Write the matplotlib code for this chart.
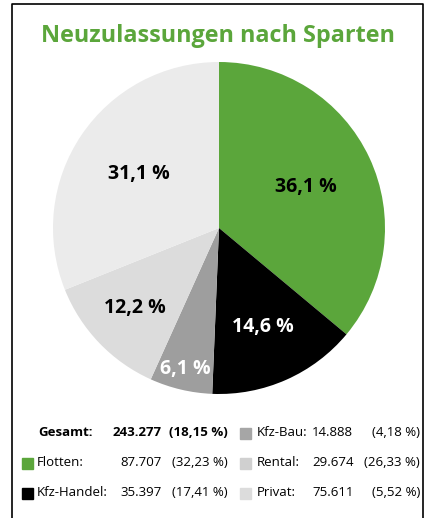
import matplotlib
matplotlib.use("Agg")
import matplotlib.pyplot as plt
import numpy as np

plt.rcParams['font.family'] = ['Open Sans', 'DejaVu Sans']

title = "Neuzulassungen nach Sparten"
shares = [36.1, 14.6, 6.1, 12.2, 31.1]
share_labels = ["36,1 %", "14,6 %", "6,1 %", "12,2 %", "31,1 %"]
colors = ["#5ba63b", "#000000", "#9e9e9e", "#dcdcdc", "#ebebeb"]
label_colors = ["black", "white", "white", "black", "black"]
label_dist = [0.58, 0.65, 0.87, 0.70, 0.58]

total_name = "Gesamt:"
total_value = "243.277"
total_pct = "(18,15 %)"
legend_names = ["Flotten:", "Kfz-Handel:", "Kfz-Bau:", "Rental:", "Privat:"]
legend_values = ["87.707", "35.397", "14.888", "29.674", "75.611"]
legend_pcts = ["(32,23 %)", "(17,41 %)", "(4,18 %)", "(26,33 %)", "(5,52 %)"]
legend_colors = ["#5ba63b", "#000000", "#a6a6a6", "#d0d0d0", "#dcdcdc"]

W, H = 427, 518
fig = plt.figure(figsize=(W / 100, H / 100), dpi=100)

def fx(px):
    return px / W

def fy(py):
    return 1 - py / H

# frame (open at bottom)
fig.add_artist(plt.Line2D([fx(12), fx(12), fx(423), fx(423)],
                          [0, fy(4), fy(4), 0], color="black", lw=1.2,
                          transform=fig.transFigure))

fig.text(fx(218), fy(36), title, color="#5ba63b", fontsize=16.8, fontweight="bold",
         ha="center", va="center")

cx, cy, r = 219, 228, 166
ax = fig.add_axes([fx(cx - r), fy(cy + r), (2 * r) / W, (2 * r) / H])
wedges, _ = ax.pie(shares, colors=colors, startangle=90, counterclock=False,
                   radius=1, wedgeprops=dict(linewidth=0))
ax.set_xlim(-1, 1)
ax.set_ylim(-1, 1)
ax.set_aspect("auto")
ax.axis("off")
for w, lab, c, d in zip(wedges, share_labels, label_colors, label_dist):
    ang = np.deg2rad((w.theta1 + w.theta2) / 2)
    ax.text(d * np.cos(ang), d * np.sin(ang), lab, color=c, fontsize=14,
            fontweight="bold", ha="center", va="center")

fs = 9.5
rows_y = [433, 463, 493]
# total row
fig.text(fx(38), fy(rows_y[0]), total_name, fontsize=fs, fontweight="bold", va="center")
fig.text(fx(162), fy(rows_y[0]), total_value, fontsize=fs, fontweight="bold", va="center", ha="right")
fig.text(fx(228), fy(rows_y[0]), total_pct, fontsize=fs, fontweight="bold", va="center", ha="right")

positions = [(0, 1), (0, 2), (1, 0), (1, 1), (1, 2)]
for (col, row), name, val, pct, c in zip(positions, legend_names, legend_values,
                                          legend_pcts, legend_colors):
    y = rows_y[row]
    if col == 0:
        sq_x, name_x, val_x, val_ha, pct_x = 22, 37, 162, "right", 228
    else:
        sq_x, name_x, val_x, val_ha, pct_x = 240, 257, 312, "left", 420
    fig.add_artist(plt.Rectangle((fx(sq_x), fy(y + 5.5)), 11 / W, 11 / H,
                                 color=c, transform=fig.transFigure))
    fig.text(fx(name_x), fy(y), name, fontsize=fs, va="center")
    fig.text(fx(val_x), fy(y), val, fontsize=fs, va="center", ha=val_ha)
    fig.text(fx(pct_x), fy(y), pct, fontsize=fs, va="center", ha="right")

fig.savefig("out.png", dpi=100)
